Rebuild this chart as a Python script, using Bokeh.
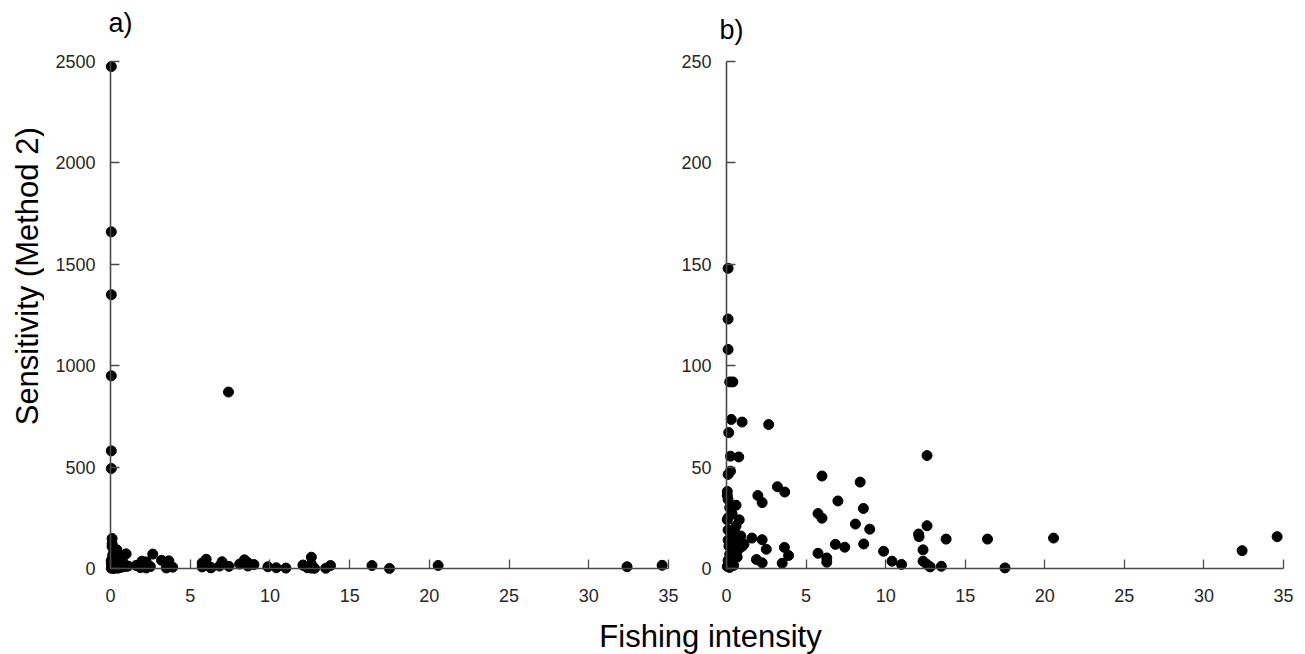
import math
from bokeh.plotting import figure
from bokeh.layouts import column, row
from bokeh.models import Range1d, Label, FixedTicker, ColumnDataSource, LinearAxis
from bokeh.embed import file_html
from bokeh.resources import INLINE

# ---- data ----
fishing_intensity = [
    0.05, 0.05, 0.05, 0.05, 0.05, 0.05, 7.4,
    0.1, 0.1, 0.1, 0.2, 0.4, 0.3, 0.98, 2.65, 0.14, 0.25, 0.77, 12.6,
    0.25, 0.1, 6.0, 8.4, 3.2, 3.66, 0.05, 0.05, 0.1, 1.97, 2.24, 7.0,
    0.6, 8.6, 5.75, 6.0, 0.1, 8.1, 12.6, 9.0, 12.07, 12.1, 13.8, 16.4,
    1.6, 2.24, 6.84, 7.43, 8.62, 3.64, 3.9, 2.5, 9.87, 12.35, 5.75,
    6.3, 6.3, 1.88, 2.24, 3.5, 10.4, 11.0, 12.35, 12.6, 12.8, 13.5,
    17.5, 20.55, 32.4, 34.6,
    0.05, 0.1, 0.3, 0.6, 0.9, 0.1, 0.5, 0.8, 1.1, 0.15, 0.4, 0.7, 0.2,
    0.5, 0.1, 0.3, 0.05, 0.2, 0.45, 1.0, 0.6, 0.35, 0.2, 0.8, 0.88, 0.67,
]
sensitivity = [
    2475, 1660, 1350, 950, 580, 493, 870,
    148, 123, 108, 92, 92, 73.5, 72.2, 71, 67, 55.4, 55, 55.7,
    48, 46.4, 45.6, 42.6, 40.3, 37.7, 38, 36, 34, 36, 32.5, 33.3,
    31.2, 29.6, 27.1, 24.8, 25, 21.9, 21.1, 19.4, 17, 15.7, 14.5, 14.5,
    15, 14.2, 11.9, 10.5, 12.1, 10.4, 6.4, 9.5, 8.5, 9.2, 7.5,
    5.2, 3.1, 4.4, 2.8, 2.6, 3.6, 2.0, 3.6, 2.0, 0.8, 1.1,
    0.3, 15, 8.8, 15.7,
    24, 19, 17, 17, 16, 14, 14, 13, 12, 11, 10, 9, 7,
    6, 4, 3, 1, 0.5, 1.5, 11, 21, 27, 30, 24, 10.5, 5.6,
]
x_ticks = [0, 5, 10, 15, 20, 25, 30, 35]
y_ticks_a = [0, 500, 1000, 1500, 2000, 2500]
y_ticks_b = [0, 50, 100, 150, 200, 250]
panel_titles = ["a)", "b)"]
x_title = "Fishing intensity"
y_title = "Sensitivity (Method 2)"

src = ColumnDataSource(dict(x=fishing_intensity, y=sensitivity))

TICK_FONT = "'Liberation Sans', Arial, sans-serif"
LABEL_FONT = "'Liberation Sans', Arial, sans-serif"
AXIS_COLOR = "#4a4a4a"

W, HT = 1305, 654
TOP = 50          # height of the strip holding "a)" / "b)"
PANEL_BOTTOM = 620
BOTTOM = HT - PANEL_BOTTOM     # strip holding the x title
LEFT = 44         # width of the strip holding the y title
SPLIT = 678       # page x where panel b's figure starts
H = PANEL_BOTTOM - TOP         # height of the two panels
FRAME_TOP = 55 - TOP           # frame edges inside a panel figure
FRAME_BOTTOM = 575 - TOP


def strip(width, height):
    s = figure(width=width, height=height, x_range=Range1d(0, width),
               y_range=Range1d(0, height), output_backend="svg",
               toolbar_location=None, min_border=0,
               x_axis_location=None, y_axis_location=None)
    s.outline_line_color = None
    s.grid.visible = False
    return s


def label(p, x, y, text, size, align="left", angle=0.0):
    p.add_layout(Label(x=x, y=y, text=text, text_align=align, text_baseline="middle",
                       text_font=LABEL_FONT, text_font_size=size, text_color="black",
                       angle=angle))


def deco_axis(ticks, inward, outward):
    return LinearAxis(fixed_location=0, ticker=FixedTicker(ticks=ticks),
                      bounds=(ticks[0], ticks[-1]),
                      axis_line_color=AXIS_COLOR, axis_line_width=1.6,
                      major_tick_line_color=AXIS_COLOR, major_tick_line_width=1.3,
                      major_tick_in=inward, major_tick_out=outward,
                      minor_tick_line_color=None,
                      major_label_text_color=None, major_label_standoff=0)


def panel(width, border_left, border_right, x_rng, y_rng, yticks, yaxis_side):
    p = figure(width=width, height=H, x_range=Range1d(*x_rng), y_range=Range1d(*y_rng),
               output_backend="svg", toolbar_location=None,
               min_border_left=border_left, min_border_right=border_right,
               min_border_top=FRAME_TOP, min_border_bottom=H - FRAME_BOTTOM)
    p.outline_line_color = None
    p.grid.visible = False
    p.background_fill_color = "white"
    p.border_fill_color = "white"

    # label-only axes at the frame edges
    for ax in (p.xaxis[0], p.yaxis[0]):
        ax.axis_line_color = None
        ax.major_tick_line_color = None
        ax.major_tick_in = 0
        ax.major_tick_out = 0
        ax.minor_tick_line_color = None
        ax.minor_tick_in = 0
        ax.minor_tick_out = 0
        ax.major_label_text_font = TICK_FONT
        ax.major_label_text_font_size = "18px"
        ax.major_label_text_color = "#262626"
    p.xaxis.major_label_standoff = 13
    p.yaxis.major_label_standoff = 7
    p.xaxis.ticker = FixedTicker(ticks=x_ticks)
    p.yaxis.ticker = FixedTicker(ticks=yticks)

    # axis line + inward ticks, placed at zero (no labels drawn)
    p.add_layout(deco_axis(x_ticks, 9, 0), "below")
    if yaxis_side == "left":
        p.add_layout(deco_axis(yticks, 9, 0), "left")
    else:
        p.add_layout(deco_axis(yticks, 0, 9), "right")

    p.scatter("x", "y", source=src, marker="circle", size=10,
              fill_color="black", line_color="black")
    return p


# panel a (page px): x 0 -> 110, 35 -> 668 ; y 0 -> 568, top tick -> 61
pxa = (668 - 110) / 35.0
pya = (568 - 61) / float(y_ticks_a[-1])
fa = panel(SPLIT - LEFT, 102 - LEFT, SPLIT - 671,
           (-(110 - 102) / pxa, (671 - 110) / pxa),
           (-(575 - 568) / pya, y_ticks_a[-1] + (61 - 55) / pya),
           y_ticks_a, "left")

# panel b (page px): x 0 -> 726, 35 -> 1283
pxb = (1283 - 726) / 35.0
pyb = (568 - 61) / float(y_ticks_b[-1])
fb = panel(W - SPLIT, 718 - SPLIT, W - 1286,
           (-(726 - 718) / pxb, (1286 - 726) / pxb),
           (-(575 - 568) / pyb, y_ticks_b[-1] + (61 - 55) / pyb),
           y_ticks_b, "right")

top = strip(W, TOP)
label(top, 108, TOP - 22, panel_titles[0], "27px")
label(top, 719, TOP - 29, panel_titles[1], "27px")

left = strip(LEFT, H)
label(left, 27, H - (292 - TOP), y_title, "31px", align="center", angle=math.pi / 2)

bottom = strip(W, BOTTOM)
label(bottom, 710, BOTTOM - (636 - PANEL_BOTTOM), x_title, "31px", align="center")

layout = column(top, row(left, fa, fb, spacing=0), bottom, spacing=0)
open("out.html", "w").write(file_html(layout, INLINE))
